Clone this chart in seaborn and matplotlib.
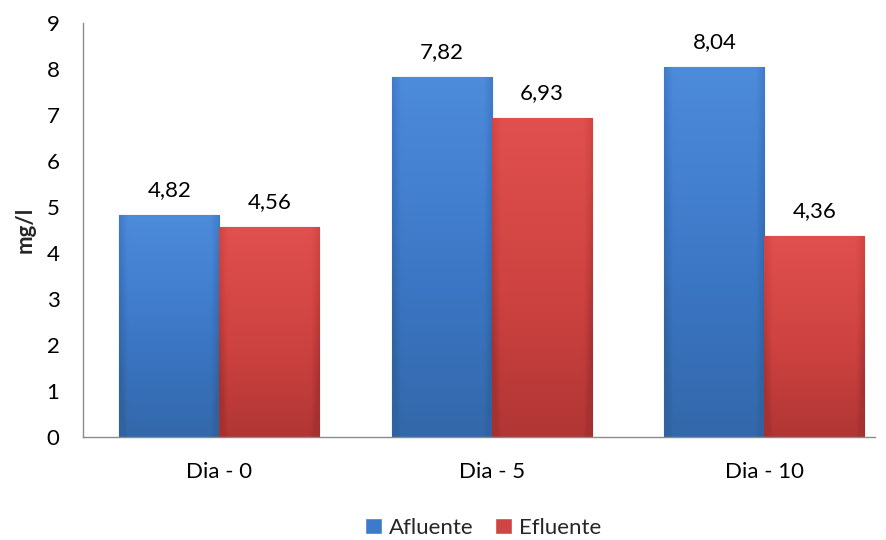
import numpy as np
import pandas as pd
import matplotlib.pyplot as plt
import matplotlib.colors as mcolors
import seaborn as sns

dias = ['Dia - 0', 'Dia - 5', 'Dia - 10']
afluente = [4.82, 7.82, 8.04]
efluente = [4.56, 6.93, 4.36]

df = pd.DataFrame({
    'Dia': dias * 2,
    'valor': afluente + efluente,
    'Serie': ['Afluente'] * 3 + ['Efluente'] * 3,
})

sns.set_theme(style="white")
plt.rcParams['font.family'] = ['Lato', 'DejaVu Sans']

BLUE = "#3d7acb"
RED = "#d04443"
# top -> bottom shades for the bevel look
SHADES = {"Afluente": ("#4d8cdb", "#3b76c4", "#30629f"),
          "Efluente": ("#e0504e", "#cc4240", "#a53130")}
EDGE = {"Afluente": "#24508a", "Efluente": "#7e2424"}

fig = plt.figure(figsize=(8.87, 5.4), dpi=100)
ax = fig.add_axes([0.0936, 0.191, 0.893, 0.766])

sns.barplot(data=df, x='Dia', y='valor', hue='Serie',
            palette=[BLUE, RED], width=0.734, ax=ax,
            saturation=1, legend=True)

ax.set_ylim(0, 9)
ax.set_xlim(-0.5, 2.406)

# gradient overlay clipped to each bar
for cont, serie in zip(ax.containers, ['Afluente', 'Efluente']):
    cmap = mcolors.LinearSegmentedColormap.from_list(serie, SHADES[serie])
    for bar in cont:
        x0, y0 = bar.get_x(), bar.get_y()
        w, h = bar.get_width(), bar.get_height()
        yy = np.linspace(0, 1, 100)[:, None]
        xx = np.linspace(0, 1, 40)[None, :]
        edge = np.clip(1 - np.minimum(xx, 1 - xx) / 0.08, 0, 1) * 0.35
        grad = np.clip(yy * 0.85 + edge, 0, 1)
        im = ax.imshow(grad, cmap=cmap, vmin=0, vmax=1, aspect='auto',
                       extent=(x0, x0 + w, y0, y0 + h), origin='upper',
                       zorder=bar.get_zorder() + 0.1)
        im.set_clip_path(bar)
        bar.set_edgecolor(EDGE[serie])
        bar.set_linewidth(0.8)
    ax.bar_label(cont, labels=[f'{v:.2f}'.replace('.', ',') for v in cont.datavalues],
                 padding=11, fontsize=16, color='black')

ax.set_ylim(0, 9)
ax.set_xlim(-0.5, 2.406)
ax.set_yticks(range(0, 10))
ax.set_xlabel('')
ax.set_ylabel('mg/l', fontsize=16, fontweight='bold', labelpad=8)
ax.tick_params(axis='y', labelsize=16, colors='black', length=0, pad=17)
ax.tick_params(axis='x', labelsize=16, colors='black', length=0, pad=18)
for s in ['top', 'right']:
    ax.spines[s].set_visible(False)
for s in ['left', 'bottom']:
    ax.spines[s].set_color('#8c8c8c')
    ax.spines[s].set_linewidth(1.0)

handles, labels = ax.get_legend_handles_labels()
ax.legend(handles, labels, loc='center', bbox_to_anchor=(0.505, -0.22),
          ncol=2, frameon=False, fontsize=16, handlelength=0.75,
          handleheight=0.75, columnspacing=1.0, handletextpad=0.3)

plt.savefig('out.png', dpi=100)
